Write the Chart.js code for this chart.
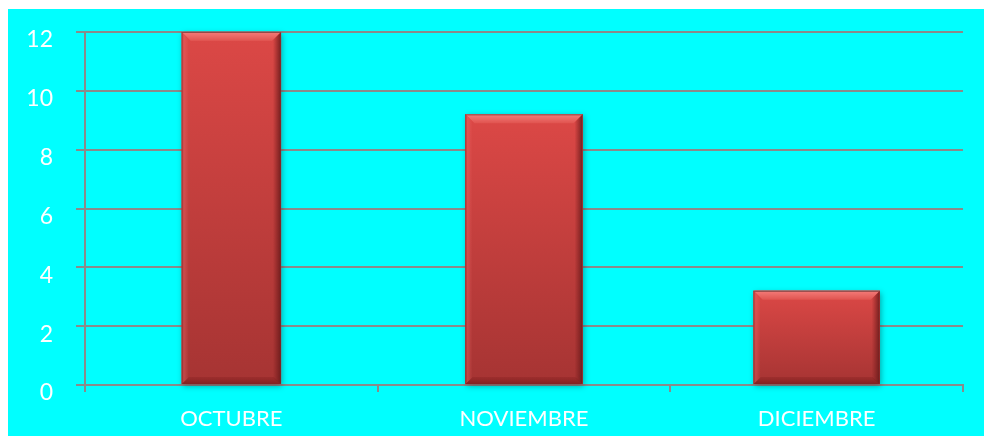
<!DOCTYPE html>
<html>
<head>
<meta charset="utf-8">
<script src="https://cdn.jsdelivr.net/npm/chart.js@4/dist/chart.umd.min.js"></script>
<style>
  html, body { margin: 0; padding: 0; background: #ffffff; }
  #wrap { position: absolute; left: 8px; top: 9px; width: 976px; height: 427px; background: #00ffff; }
  canvas { display: block; }
</style>
</head>
<body>
<div id="wrap"><canvas id="c" width="976" height="427"></canvas></div>
<script>
const categories = ['OCTUBRE', 'NOVIEMBRE', 'DICIEMBRE'];
const values = [12, 9.2, 3.2];
const barWidths = [99, 117, 126];
const yTicks = [0, 2, 4, 6, 8, 10, 12];

const GRID = '#8a8a8a';

const datasets = values.map((v, i) => ({
  label: categories[i],
  data: categories.map((_, j) => (j === i ? v : null)),
  backgroundColor: '#c94040',
  borderWidth: 0,
  barThickness: barWidths[i],
  grouped: false
}));

function trap(ctx, pts, fill) {
  ctx.beginPath();
  ctx.moveTo(pts[0][0], pts[0][1]);
  for (let k = 1; k < pts.length; k++) ctx.lineTo(pts[k][0], pts[k][1]);
  ctx.closePath();
  ctx.fillStyle = fill;
  ctx.fill();
}

function eachBar(chart, fn) {
  chart.data.datasets.forEach((ds, i) => {
    chart.getDatasetMeta(i).data.forEach((bar, j) => {
      if (ds.data[j] == null || bar.skip) return;
      const p = bar.getProps(['x', 'y', 'base', 'width'], true);
      if (!isFinite(p.y) || !isFinite(p.base) || Math.abs(p.base - p.y) < 1) return;
      fn(p.x - p.width / 2, p.x + p.width / 2, p.y, p.base);
    });
  });
}

const bevelPlugin = {
  id: 'bevel',
  beforeDatasetsDraw(chart) {
    const ctx = chart.ctx;
    eachBar(chart, (L, R, T, B) => {
      ctx.save();
      ctx.shadowColor = 'rgba(0,0,0,0.35)';
      ctx.shadowBlur = 6;
      ctx.shadowOffsetX = 1;
      ctx.shadowOffsetY = 2;
      ctx.fillStyle = '#a83434';
      ctx.fillRect(L, T, R - L, B - T);
      ctx.restore();
    });
  },
  afterDatasetsDraw(chart) {
    const ctx = chart.ctx;
    eachBar(chart, (L, R, T, B) => {
      const H = B - T;
      ctx.save();
      const g = ctx.createLinearGradient(0, T, 0, B);
      g.addColorStop(0, '#dc4846');
      g.addColorStop(1, '#a63433');
      ctx.fillStyle = g;
      ctx.fillRect(L, T, R - L, H);
      const gr = ctx.createLinearGradient(R - 8, 0, R, 0);
      gr.addColorStop(0, 'rgba(110,25,25,0)');
      gr.addColorStop(1, 'rgba(100,25,25,0.85)');
      trap(ctx, [[R - 8, T + 8], [R, T], [R, B], [R - 8, B - 6]], gr);
      const gl = ctx.createLinearGradient(L, 0, L + 7, 0);
      gl.addColorStop(0, 'rgba(120,30,30,0.55)');
      gl.addColorStop(0.3, 'rgba(240,110,110,0.35)');
      gl.addColorStop(1, 'rgba(240,110,110,0)');
      trap(ctx, [[L, T], [L + 7, T + 8], [L + 7, B - 6], [L, B]], gl);
      const gt = ctx.createLinearGradient(0, T, 0, T + 9);
      gt.addColorStop(0, '#f47d7a');
      gt.addColorStop(1, '#e0534f');
      trap(ctx, [[L, T], [R, T], [R - 9, T + 9], [L + 9, T + 9]], gt);
      const gb = ctx.createLinearGradient(0, B - 7, 0, B);
      gb.addColorStop(0, 'rgba(140,35,35,0.4)');
      gb.addColorStop(1, 'rgba(120,30,30,0.8)');
      trap(ctx, [[L + 7, B - 7], [R - 7, B - 7], [R, B], [L, B]], gb);
      ctx.strokeStyle = 'rgba(120,60,60,0.8)';
      ctx.lineWidth = 1;
      ctx.beginPath();
      ctx.moveTo(L, T + 0.5);
      ctx.lineTo(R, T + 0.5);
      ctx.stroke();
      ctx.restore();
    });
  }
};

new Chart(document.getElementById('c'), {
  type: 'bar',
  data: { labels: categories, datasets: datasets },
  plugins: [bevelPlugin],
  options: {
    responsive: false,
    animation: false,
    devicePixelRatio: 1,
    layout: { padding: { top: 23, right: 21, left: 0, bottom: 0 } },
    plugins: { legend: { display: false }, tooltip: { enabled: false } },
    scales: {
      x: {
        grid: { display: true, drawOnChartArea: false, drawTicks: true, tickLength: 7, color: GRID, lineWidth: 2, offset: true },
        border: { display: true, color: GRID, width: 2 },
        ticks: { color: '#ffffff', font: { family: 'Lato', size: 22 }, padding: 14, maxRotation: 0 },
        afterFit(s) { s.height = 51; s.paddingLeft = 0; s.paddingRight = 0; }
      },
      y: {
        min: 0, max: 12,
        afterBuildTicks(s) { s.ticks = yTicks.map(v => ({ value: v })); },
        grid: { color: GRID, lineWidth: 2, drawTicks: true, tickLength: 9 },
        border: { display: true, color: GRID, width: 2 },
        ticks: { color: '#ffffff', font: { family: 'Lato', size: 23 }, padding: 23, labelOffset: 8 },
        afterFit(s) { s.width = 77; s.paddingTop = 0; s.paddingBottom = 0; }
      }
    }
  }
});
</script>
</body>
</html>
